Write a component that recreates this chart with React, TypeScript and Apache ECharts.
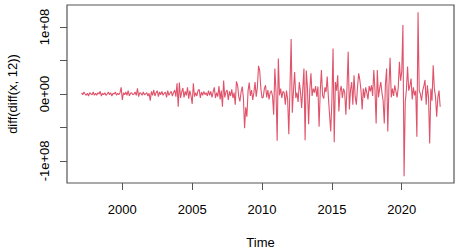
import React, { useEffect, useRef } from "react";
import * as echarts from "echarts";

// Monthly series: diff(diff(x, 12)), starting Feb 1997, values in millions
const startYear = 1997;
const startMonth = 1; // 0-based month index (Feb)
const valuesMillions: number[] = [
  2, -1, 3, 0, -2, 1, -3, 2, 0, -1, 3, -2,
  1, -2, 2, 0, 4, -3, 1, -1, 2, -2, 0, 3,
  -1, 2, -3, 1, 0, 3, -2, 1, -1, 2, 10, -9,
  2, -1, 3, -2, 5, -3, 1, 2, -1, 0, 3, -2,
  8.5, -4, 2, 1, -2, 3, -1, 0, 2, -3, 1, -10,
  4, -2, 6, -3, 2, 5, -4, 3, -1, 4, -2, 1,
  3, -5, 5, -2, 1, 4, -3, 2, 6, -4, 16, -19,
  17, -6, 3, 9, -5, 4, -2, 10, -7, 5, -3, -15,
  16, -4, 2, -3, 5, 7, -6, 3, -2, 4, -1, 2,
  -3, 5, -2, 4, -5, 3, 10, -6, 2, -4, 12, -8,
  5, -19, 20, -5, 3, 6, -9, 4, -3, 7, -6, 2,
  -16, 19, 13, -4, -11, 3, 11, -6, -51, -20, -34, 5,
  17, -3, 6, -9, 2, 18, -4, 10, 42, 35, 8, -6,
  -5, 8, 13, -5, 6, -8, 2, 5, -3, -31, 38, 4,
  -70, 53, -2, 8, -6, 4, 2, -16, 5, -8, -60, 10,
  82, -28, 5, 33, -6, 2, -12, 18, 4, -21, 8, 38,
  -69, 35, 10, -45, 6, 31, -3, 8, 2, 12, -4, 11,
  -49, 4, 36, -2, -7, 10, 3, 26, -5, -31, -56, -10,
  68, -72, 18, 5, 28, -26, 4, 12, -6, 8, 2, -31,
  10, 63, -23, 6, 18, -16, 28, -4, -16, 10, 31, 21,
  5, -23, 8, -6, 10, 2, -8, 12, 4, 13, -3, 36,
  6, -44, 36, -5, 8, 18, 2, -10, -44, 15, 38, -56,
  12, 54, -5, 8, -3, 13, 4, -5, 10, 48, 20, 33,
  103, -123, -12, 6, 41, 5, 12, 23, -8, 10, -2, 5,
  -64, 122, 5, 0, -10, 5, 12, 21, -16, 13, -5, -74,
  8, -10, 43, 8, -4, -34, -5, 5, -19,
];

const xTicks = [2000, 2005, 2010, 2015, 2020];
const yTicks = [-1e8, -5e7, 0, 5e7, 1e8];
const yLabelValues = [-1e8, 0, 1e8];
const yLabelText: Record<string, string> = {
  "-100000000": "-1e+08",
  "0": "0e+00",
  "100000000": "1e+08",
};

const lineColor = "#DF536B";
const axisColor = "#555555";
const fontFamily = "'Liberation Sans', Arial, sans-serif";

export default function App() {
  const ref = useRef<HTMLDivElement>(null);

  useEffect(() => {
    if (!ref.current) return;
    const chart = echarts.init(ref.current, undefined, { renderer: "svg" });
    const data = valuesMillions.map((v, i) => [
      startYear + (startMonth + i) / 12,
      v * 1e6,
    ]);
    chart.setOption({
      animation: false,
      backgroundColor: "#ffffff",
      grid: {
        left: 67,
        right: 4,
        top: 5,
        bottom: 66,
        containLabel: false,
        outerBoundsMode: "none",
        show: true,
        borderColor: axisColor,
        borderWidth: 1.2,
        backgroundColor: "transparent",
      },
      xAxis: {
        type: "value",
        min: 1996.04,
        max: 2023.74,
        name: "Time",
        nameLocation: "middle",
        nameGap: 53,
        nameMoveOverlap: false,
        nameTextStyle: { fontFamily, fontSize: 13, color: "#000" },
        axisLine: { show: false, onZero: false },
        splitLine: { show: false },
        axisTick: {
          show: true,
          length: 7,
          inside: false,
          customValues: xTicks,
          lineStyle: { color: axisColor, width: 1 },
        },
        axisLabel: {
          customValues: xTicks,
          margin: 20,
          fontFamily,
          fontSize: 13,
          color: "#000",
          formatter: (v: number) => String(Math.round(v)),
        },
      },
      yAxis: {
        type: "value",
        min: -1.33e8,
        max: 1.33e8,
        name: "diff(diff(x, 12))",
        nameLocation: "middle",
        nameGap: 48,
        nameMoveOverlap: false,
        nameRotate: 90,
        nameTextStyle: { fontFamily, fontSize: 13, color: "#000" },
        axisLine: { show: false, onZero: false },
        splitLine: { show: false },
        axisTick: {
          show: true,
          length: 7,
          inside: false,
          customValues: yTicks,
          lineStyle: { color: axisColor, width: 1 },
        },
        axisLabel: {
          customValues: yLabelValues,
          rotate: 90,
          margin: 16,
          fontFamily,
          fontSize: 13,
          color: "#000",
          formatter: (v: number) => yLabelText[String(Math.round(v))] ?? "",
        },
      },
      series: [
        {
          type: "line",
          data,
          showSymbol: false,
          symbol: "none",
          lineStyle: { color: lineColor, width: 1.1 },
          clip: true,
        },
      ],
    });
    return () => chart.dispose();
  }, []);

  return (
    <div
      ref={ref}
      style={{ position: "fixed", left: 0, top: 0, width: 458, height: 249 }}
    />
  );
}
